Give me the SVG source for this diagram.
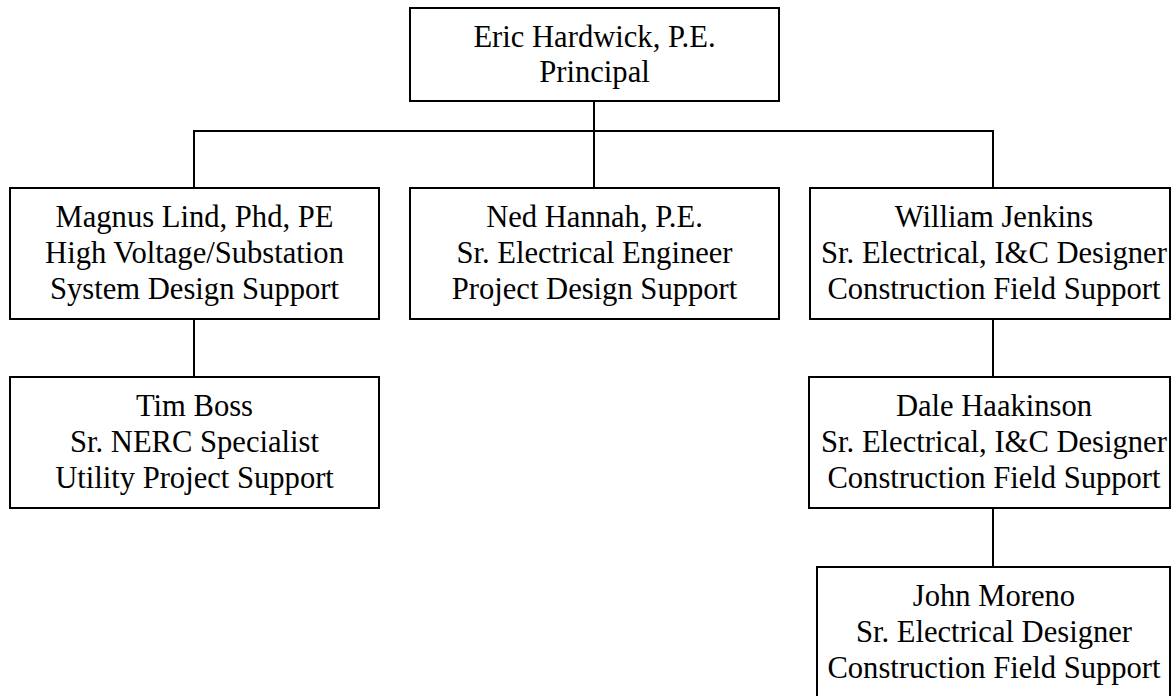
<svg xmlns="http://www.w3.org/2000/svg" width="1171" height="696" viewBox="0 0 1171 696">
<style>
rect{fill:#fff;stroke:#000;stroke-width:2}
.c line{stroke:#000;stroke-width:2}
text{font-family:"Liberation Serif","Times New Roman",serif;font-size:30.6px;fill:#000;text-anchor:middle}
</style>
<rect x="0" y="0" width="1171" height="696" style="stroke:none"/>
<g class="c" id="connectors">
<line x1="594" y1="101" x2="594" y2="187"/>
<line x1="193" y1="131" x2="994" y2="131"/>
<line x1="194" y1="131" x2="194" y2="187"/>
<line x1="993" y1="131" x2="993" y2="188"/>
<line x1="194" y1="319" x2="194" y2="377"/>
<line x1="993" y1="319" x2="993" y2="377"/>
<line x1="993" y1="508" x2="993" y2="567"/>
</g>
<g id="eric">
<rect x="410" y="8" width="369" height="93"/>
<text x="594.5" y="47">Eric Hardwick, P.E.</text>
<text x="594.5" y="82">Principal</text>
</g>
<g id="magnus">
<rect x="10" y="188" width="369" height="131"/>
<text x="194.5" y="227">Magnus Lind, Phd, PE</text>
<text x="194.5" y="263">High Voltage/Substation</text>
<text x="194.5" y="299">System Design Support</text>
</g>
<g id="ned">
<rect x="410" y="188" width="369" height="131"/>
<text x="594.5" y="227">Ned Hannah, P.E.</text>
<text x="594.5" y="263">Sr. Electrical Engineer</text>
<text x="594.5" y="299">Project Design Support</text>
</g>
<g id="william">
<rect x="810" y="188" width="360" height="131"/>
<text x="994" y="227">William Jenkins</text>
<text x="994" y="263">Sr. Electrical, I&amp;C Designer</text>
<text x="994" y="299">Construction Field Support</text>
</g>
<g id="tim">
<rect x="10" y="377" width="369" height="131"/>
<text x="194.5" y="416">Tim Boss</text>
<text x="194.5" y="452">Sr. NERC Specialist</text>
<text x="194.5" y="488">Utility Project Support</text>
</g>
<g id="dale">
<rect x="809" y="377" width="361" height="131"/>
<text x="994" y="416">Dale Haakinson</text>
<text x="994" y="452">Sr. Electrical, I&amp;C Designer</text>
<text x="994" y="488">Construction Field Support</text>
</g>
<g id="john">
<rect x="817" y="567" width="353" height="131"/>
<text x="994" y="606">John Moreno</text>
<text x="994" y="642">Sr. Electrical Designer</text>
<text x="994" y="678">Construction Field Support</text>
</g>
</svg>
